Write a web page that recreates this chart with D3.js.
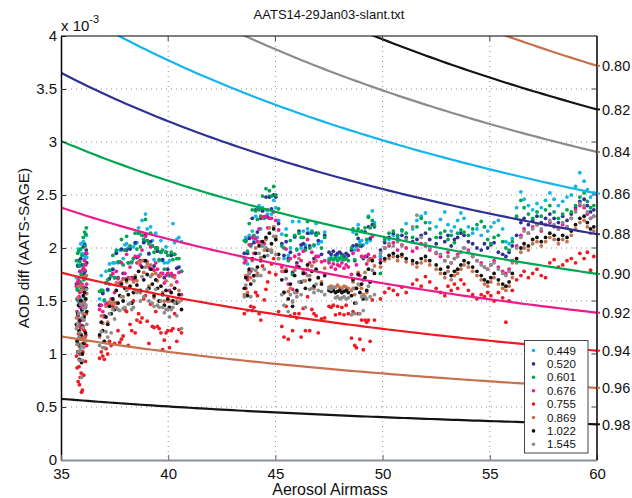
<!DOCTYPE html>
<html><head><meta charset="utf-8">
<script src="https://cdn.jsdelivr.net/npm/d3@7"></script>
<style>
body{margin:0;background:#fff}
svg text{font-family:"Liberation Sans",Arial,Helvetica,sans-serif;fill:#111}
</style>
</head><body>
<svg id="chart" width="632" height="498"></svg>
<script>
// ---- data (AOD values in units of 1e-3) ----
const airmass = [
35.72,35.75,35.78,35.80,35.82,35.84,35.86,35.88,35.90,35.92,35.94,35.96,35.98,36.00,36.02,36.04,36.06,36.08,36.10,36.12,36.14,36.16,36.18,36.20,
36.80,36.88,36.95,37.02,37.10,37.18,37.26,37.34,37.42,37.50,37.58,37.66,37.74,37.82,37.90,37.98,38.06,38.14,38.22,38.30,38.38,38.46,38.54,38.62,38.70,38.78,38.86,38.94,39.02,39.10,39.18,39.26,39.34,39.42,39.50,39.58,39.66,39.74,39.82,39.90,39.98,40.06,40.14,40.22,40.30,40.40,40.50,40.62,
43.55,43.62,43.70,43.78,43.85,43.92,44.00,44.08,44.16,44.24,44.32,44.40,44.48,44.56,44.64,44.72,44.82,44.92,45.02,45.15,
45.30,45.40,45.50,45.60,45.70,45.80,45.90,46.00,46.10,46.20,46.30,46.40,46.50,46.60,46.70,46.80,46.90,47.00,47.15,47.30,
47.50,47.60,47.70,47.80,47.90,48.00,48.10,48.20,48.30,48.40,
48.55,48.62,48.70,48.78,48.86,48.94,49.02,49.10,49.18,49.26,49.34,49.42,49.52,49.62,
49.90,50.10,50.30,50.50,50.70,50.90,51.10,51.40,51.60,51.80,52.00,52.20,52.50,52.70,52.90,53.05,53.20,53.35,53.50,53.65,53.80,54.00,54.20,54.40,54.60,54.75,54.90,55.05,55.20,55.40,55.60,55.75,55.90,56.05,56.25,56.45,56.60,56.80,57.00,57.20,57.40,57.60,57.80,58.00,58.20,58.40,58.60,58.80,59.00,59.20,59.40,59.55,59.70,59.85
];
const aod449 = [
1.72,1.66,1.84,1.50,1.99,1.64,1.45,1.83,1.52,2.04,1.64,1.40,1.95,1.42,1.76,2.06,1.54,1.89,2.04,1.92,1.73,1.94,2.12,1.91,
1.52,1.74,1.58,1.50,1.78,1.60,1.85,1.79,1.86,1.86,1.96,1.86,1.98,1.98,1.90,2.03,2.04,2.00,2.00,1.86,2.01,2.04,2.05,2.19,1.94,2.26,2.06,2.32,2.18,1.94,2.20,2.07,1.89,2.14,1.98,1.88,2.07,1.88,1.86,2.01,1.86,1.88,1.94,2.23,2.05,2.08,2.10,2.06,
1.90,2.10,1.85,2.12,2.03,2.16,2.08,2.30,2.10,2.40,2.18,2.38,2.29,2.36,2.32,2.49,2.32,2.45,2.38,2.26,
2.13,1.90,2.18,1.93,2.00,2.25,2.10,1.98,2.25,2.00,2.16,2.03,2.18,2.14,2.14,2.02,2.23,2.04,2.06,2.15,
1.90,1.91,1.89,1.90,1.92,1.90,1.89,1.91,1.90,1.93,
1.98,2.15,1.98,2.01,2.22,2.06,2.07,2.03,2.15,2.05,2.30,2.07,2.35,2.24,
1.92,2.00,2.08,2.12,2.10,2.16,2.23,2.18,2.26,2.30,2.33,2.24,2.20,2.27,2.34,2.22,2.16,2.20,2.26,2.33,2.28,2.20,2.14,2.18,2.12,2.20,2.16,2.20,2.24,2.26,2.18,2.06,2.04,2.09,2.38,2.53,2.46,2.40,2.36,2.42,2.38,2.45,2.52,2.46,2.40,2.44,2.48,2.50,2.58,2.71,2.63,2.55,2.48,2.52
];
const aod520 = [
1.66,1.52,1.83,1.36,1.88,1.65,1.31,1.78,1.46,1.90,1.63,1.26,1.84,1.43,1.62,2.01,1.48,1.75,2.03,1.78,1.62,1.95,1.98,1.86,
1.46,1.60,1.57,1.36,1.67,1.61,1.71,1.74,1.80,1.72,1.95,1.72,1.87,1.99,1.76,1.98,1.98,1.86,1.99,1.72,1.90,2.05,1.91,2.14,1.88,2.12,2.05,2.12,2.07,1.95,2.06,2.02,1.83,2.00,1.97,1.74,1.96,1.89,1.72,1.96,1.80,1.74,1.93,1.74,1.94,1.81,1.82,1.78,
1.95,2.07,1.95,2.09,2.03,2.28,2.05,2.36,2.15,2.37,2.28,2.35,2.29,2.48,2.29,2.48,2.37,2.50,2.48,2.23,
2.04,1.93,2.06,1.90,1.96,1.77,2.11,1.86,2.16,2.03,2.04,2.00,2.14,2.02,2.15,1.90,2.14,2.07,1.94,2.12,
1.96,1.94,1.97,1.93,1.95,1.96,1.94,1.92,1.95,1.93,
1.98,2.02,1.88,2.03,2.09,2.02,2.02,1.90,2.15,1.92,2.20,2.09,2.22,2.20,
1.98,2.05,2.10,2.14,2.08,2.12,2.10,2.06,2.08,2.12,2.14,2.08,2.04,2.10,2.06,2.12,2.02,2.08,2.10,2.14,2.12,2.06,2.04,2.00,1.98,2.04,2.00,2.03,2.05,1.96,1.94,1.92,1.96,2.02,2.12,2.24,2.28,2.22,2.26,2.30,2.24,2.28,2.32,2.28,2.24,2.30,2.26,2.32,2.38,2.44,2.46,2.40,2.34,2.36
];
const aod601 = [
1.88,1.61,1.95,1.60,1.97,1.83,1.48,1.87,1.68,1.99,1.75,1.50,1.93,1.61,1.79,2.10,1.70,1.84,2.15,2.02,1.71,2.13,2.19,1.95,
1.59,1.60,1.60,1.51,1.67,1.70,1.79,1.74,1.93,1.72,1.98,1.87,1.87,2.08,1.84,1.98,2.11,1.86,2.02,1.87,1.90,2.14,1.99,2.14,2.01,2.12,2.08,2.27,2.07,2.04,2.14,2.02,1.96,2.00,2.00,1.89,1.96,1.98,1.80,1.96,1.93,1.74,1.96,1.89,1.94,1.90,1.90,1.78,
2.07,2.06,1.97,2.23,2.02,2.36,2.12,2.35,2.27,2.36,2.30,2.49,2.28,2.56,2.36,2.54,2.49,2.58,2.50,2.37,
2.02,2.00,2.12,1.88,2.07,1.75,2.12,1.99,2.14,2.10,2.10,1.98,2.25,2.00,2.16,2.03,2.12,2.14,2.00,2.10,
1.88,1.90,1.89,1.91,1.88,1.90,1.92,1.89,1.90,1.88,
2.00,2.18,1.89,2.13,2.18,2.03,2.16,1.91,2.19,2.08,2.29,2.19,2.26,2.21,
1.76,2.08,2.14,2.16,2.12,2.17,2.14,2.10,2.20,2.28,2.24,2.18,2.10,2.14,2.16,2.08,2.12,2.05,2.14,2.17,2.15,2.12,2.18,2.22,2.25,2.20,2.08,2.04,2.10,2.12,2.06,2.00,1.98,2.06,2.30,2.45,2.38,2.32,2.28,2.34,2.30,2.36,2.40,2.34,2.28,2.32,2.36,2.34,2.40,2.48,2.52,2.44,2.38,2.40
];
const aod676 = [
1.64,1.40,1.68,1.37,1.70,1.54,1.28,1.58,1.44,1.78,1.48,1.27,1.66,1.32,1.59,1.81,1.46,1.63,1.88,1.79,1.44,1.84,1.95,1.66,
1.42,1.46,1.40,1.35,1.47,1.48,1.66,1.52,1.76,1.58,1.78,1.71,1.67,1.86,1.71,1.76,1.94,1.72,1.82,1.71,1.70,1.92,1.86,1.92,1.84,1.98,1.88,2.11,1.87,1.82,2.01,1.80,1.79,1.86,1.80,1.73,1.76,1.76,1.67,1.74,1.76,1.60,1.76,1.73,1.74,1.68,1.77,1.56,
1.86,1.88,1.73,2.03,1.78,2.10,1.95,2.09,2.06,2.18,2.06,2.29,2.04,2.30,2.19,2.28,2.28,2.34,2.26,2.17,
1.82,1.78,1.99,1.66,1.90,1.61,1.92,1.83,1.94,1.88,1.97,1.76,2.08,1.86,1.96,1.87,1.92,1.92,1.87,1.88,
1.86,1.82,1.85,1.80,1.84,1.83,1.86,1.81,1.84,1.82,
1.75,1.95,1.62,1.84,1.98,1.74,1.92,1.70,1.92,1.85,1.94,1.90,2.11,1.92,
1.89,2.00,2.02,2.05,1.98,2.03,2.00,1.97,2.00,2.04,2.02,1.98,1.95,1.92,1.88,1.96,1.86,1.90,1.94,1.96,2.00,1.98,1.92,1.88,1.86,1.82,1.80,1.84,1.88,1.82,1.78,1.76,1.80,1.88,2.02,2.12,2.18,2.14,2.20,2.22,2.16,2.22,2.24,2.20,2.18,2.22,2.20,2.28,2.36,2.40,2.38,2.32,2.28,2.30
];
const aod755 = [
0.98,0.87,1.02,0.74,1.19,0.88,0.71,1.00,0.78,1.25,0.82,0.64,1.15,0.66,1.02,1.23,0.80,1.10,1.22,1.16,0.93,1.18,1.38,1.08,
0.96,1.02,0.98,0.95,1.05,1.00,1.12,1.08,1.45,1.10,1.48,1.22,1.11,1.14,1.17,1.42,1.40,1.08,1.28,1.22,1.50,1.20,1.32,1.38,1.30,1.34,1.52,1.55,1.31,1.10,1.47,1.26,1.25,1.40,1.26,1.24,1.20,1.04,1.13,1.20,1.22,1.06,1.22,1.24,1.38,1.12,1.23,1.20,
1.38,1.62,1.70,1.78,1.45,1.41,1.44,1.58,1.55,1.38,1.32,1.83,1.51,1.61,1.68,1.77,1.85,1.90,1.75,1.40,
1.26,1.16,1.45,1.14,1.36,1.22,1.38,1.34,1.38,1.16,1.43,1.22,1.54,1.22,1.42,1.38,1.36,1.20,1.33,1.34,
1.45,1.44,1.46,1.37,1.45,1.38,1.44,1.37,1.46,1.38,
1.15,1.40,1.08,1.06,1.38,1.14,1.32,1.04,1.32,1.30,1.32,1.12,1.51,1.32,
1.52,1.58,1.62,1.60,1.56,1.63,1.58,1.66,1.70,1.64,1.73,1.68,1.62,1.58,1.55,1.64,1.60,1.66,1.62,1.70,1.66,1.60,1.56,1.52,1.56,1.54,1.58,1.55,1.50,1.58,1.53,1.30,1.50,1.60,1.70,1.74,1.78,1.72,1.76,1.80,1.74,1.72,1.86,1.89,1.82,1.84,1.88,1.90,1.86,1.95,1.90,1.96,1.79,1.92
];
const aod869 = [
1.34,1.26,1.53,1.10,1.64,1.32,1.07,1.49,1.14,1.64,1.33,1.00,1.60,1.10,1.38,1.72,1.16,1.49,1.73,1.52,1.38,1.62,1.74,1.57,
1.16,1.36,1.29,1.12,1.45,1.30,1.49,1.47,1.50,1.48,1.67,1.48,1.65,1.68,1.54,1.71,1.68,1.62,1.71,1.48,1.68,1.74,1.69,1.87,1.58,1.88,1.77,1.88,1.85,1.64,1.84,1.75,1.53,1.76,1.69,1.50,1.74,1.58,1.50,1.69,1.50,1.50,1.65,1.50,1.72,1.50,1.60,1.51,
1.56,1.74,1.58,1.76,1.72,1.88,1.74,2.00,1.76,2.04,1.91,2.02,1.98,2.08,1.98,2.19,1.98,2.20,2.11,1.90,
1.78,1.58,1.80,1.59,1.62,1.49,1.79,1.58,1.90,1.68,1.78,1.69,1.80,1.74,1.83,1.62,1.88,1.72,1.68,1.81,
1.63,1.64,1.62,1.63,1.65,1.63,1.62,1.64,1.63,1.62,
1.60,1.68,1.56,1.62,1.77,1.65,1.62,1.56,1.77,1.58,1.88,1.68,1.90,1.83,
1.82,1.88,1.90,1.92,1.88,1.92,1.87,1.85,1.82,1.86,1.88,1.84,1.80,1.76,1.72,1.78,1.70,1.74,1.76,1.80,1.84,1.82,1.78,1.74,1.70,1.66,1.64,1.68,1.72,1.66,1.62,1.60,1.64,1.72,1.86,1.96,2.00,1.98,2.04,2.06,2.02,2.06,2.10,2.08,2.04,2.08,2.06,2.12,2.18,2.24,2.26,2.20,2.14,2.16
];
const aod1022 = [
1.28,1.12,1.38,1.02,1.46,1.22,0.95,1.32,1.08,1.50,1.18,0.92,1.42,1.00,1.26,1.55,1.10,1.35,1.58,1.44,1.20,1.52,1.62,1.40,
1.18,1.30,1.22,1.12,1.35,1.28,1.45,1.38,1.52,1.42,1.60,1.48,1.55,1.66,1.50,1.62,1.70,1.56,1.64,1.48,1.58,1.72,1.65,1.78,1.60,1.82,1.70,1.88,1.75,1.62,1.80,1.66,1.55,1.70,1.62,1.50,1.64,1.56,1.46,1.60,1.52,1.44,1.58,1.50,1.62,1.48,1.56,1.42,
1.62,1.72,1.55,1.80,1.66,1.90,1.74,1.95,1.82,2.02,1.88,2.06,1.92,2.10,1.98,2.14,2.04,2.18,2.08,1.94,
1.70,1.58,1.78,1.52,1.66,1.45,1.74,1.60,1.82,1.68,1.76,1.62,1.84,1.70,1.78,1.64,1.80,1.72,1.66,1.74,
1.60,1.59,1.60,1.58,1.59,1.60,1.58,1.59,1.60,1.58,
1.55,1.70,1.48,1.62,1.75,1.58,1.66,1.52,1.72,1.60,1.80,1.68,1.88,1.76,
1.86,1.90,1.93,1.95,1.92,1.94,1.90,1.88,1.86,1.90,1.92,1.88,1.84,1.80,1.76,1.82,1.74,1.78,1.80,1.84,1.88,1.86,1.82,1.78,1.74,1.70,1.68,1.72,1.76,1.70,1.66,1.64,1.68,1.76,1.90,2.00,2.04,2.02,2.08,2.10,2.06,2.10,2.14,2.12,2.08,2.12,2.10,2.16,2.22,2.28,2.30,2.24,2.18,2.20
];
const aod1545 = [
1.24,1.09,1.28,1.02,1.38,1.16,0.94,1.20,1.04,1.47,1.08,0.78,1.34,0.94,1.25,1.43,1.06,1.32,1.48,1.44,1.12,1.46,1.61,1.28,
1.08,1.21,1.06,1.06,1.21,1.16,1.38,1.20,1.42,1.33,1.44,1.42,1.41,1.54,1.43,1.44,1.60,1.47,1.48,1.42,1.44,1.60,1.58,1.60,1.50,1.73,1.54,1.82,1.61,1.50,1.73,1.48,1.45,1.61,1.46,1.44,1.50,1.44,1.39,1.42,1.42,1.35,1.42,1.44,1.48,1.36,1.49,1.24,
1.54,1.65,1.41,1.76,1.54,1.80,1.69,1.79,1.74,1.95,1.74,2.02,1.80,2.00,1.93,1.98,1.96,2.11,1.94,1.90,
1.56,1.46,1.71,1.40,1.56,1.50,1.58,1.54,1.68,1.56,1.69,1.44,1.74,1.61,1.62,1.58,1.66,1.60,1.59,1.56,
1.62,1.61,1.63,1.53,1.54,1.52,1.53,1.54,1.52,1.53,
1.37,1.62,1.38,1.48,1.66,1.38,1.54,1.41,1.54,1.52,1.64,1.54,1.79,1.56,
1.95,2.00,2.04,2.02,2.06,2.02,2.08,2.20,2.31,2.10,2.04,2.00,1.96,1.94,1.88,1.92,1.86,1.90,1.92,1.96,2.00,1.96,1.92,1.88,1.84,1.82,1.80,1.84,1.86,1.80,1.76,1.74,1.78,1.86,2.00,2.10,2.16,2.14,2.18,2.22,2.18,2.22,2.26,2.22,2.18,2.24,2.20,2.28,2.34,2.42,2.40,2.34,2.28,2.30
];
const wavelengthLabels = ["0.449","0.520","0.601","0.676","0.755","0.869","1.022","1.545"];
const seriesColors = ["#14b4ec","#2e3192","#00a651","#ec1c8e","#ed1c24","#c8714e","#141414","#8c8c8c"];
const transmittances = [0.80,0.82,0.84,0.86,0.88,0.90,0.92,0.94,0.96,0.98];
const transLabels = ["0.80","0.82","0.84","0.86","0.88","0.90","0.92","0.94","0.96","0.98"];
const curveColors = ["#c8714e","#141414","#8c8c8c","#14b4ec","#2e3192","#00a651","#ec1c8e","#ed1c24","#c8714e","#141414"];
const xTicks = [35,40,45,50,55,60];
const yTicks = [0,0.5,1,1.5,2,2.5,3,3.5,4];
const titleText = "AATS14-29Jan03-slant.txt";

// ---- drawing ----
const L = 61, R = 597, T = 36, B = 460;
const svg = d3.select("#chart");
const x = d3.scaleLinear().domain([35,60]).range([L,R]);
const y = d3.scaleLinear().domain([0,4]).range([B,T]);

svg.append("defs").append("clipPath").attr("id","plotclip")
  .append("rect").attr("x",L).attr("y",T).attr("width",R-L).attr("height",B-T);

// grid
const grid = svg.append("g");
grid.selectAll("line.gx").data(xTicks.slice(1,-1)).join("line")
  .attr("x1",d=>x(d)).attr("x2",d=>x(d)).attr("y1",T).attr("y2",B)
  .attr("stroke","#8f8f8f").attr("stroke-width",1).attr("stroke-dasharray","1,4");
grid.selectAll("line.gy").data(yTicks.slice(1,-1)).join("line")
  .attr("y1",d=>y(d)).attr("y2",d=>y(d)).attr("x1",L).attr("x2",R)
  .attr("stroke","#8f8f8f").attr("stroke-width",1).attr("stroke-dasharray","1,4");

// scatter points
const seriesValues = [aod449,aod520,aod601,aod676,aod755,aod869,aod1022,aod1545];
const pts = svg.append("g").attr("clip-path","url(#plotclip)");
seriesValues.forEach((vals,k)=>{
  pts.append("g").selectAll("circle").data(vals).join("circle")
    .attr("cx",(d,i)=>x(airmass[i])).attr("cy",d=>y(d)).attr("r",1.9)
    .attr("fill",seriesColors[k]);
});

// constant-transmittance curves: AOD = -ln(T)/airmass
const mGrid = d3.range(35,60.001,0.25);
const line = d3.line().x(d=>x(d[0])).y(d=>y(d[1]));
const curves = svg.append("g").attr("clip-path","url(#plotclip)");
transmittances.forEach((t,k)=>{
  curves.append("path")
    .attr("d",line(mGrid.map(m=>[m,-Math.log(t)/m*1000])))
    .attr("fill","none").attr("stroke",curveColors[k]).attr("stroke-width",2.2);
});

// axes
const axL = svg.append("g").attr("transform",`translate(${L},0)`)
  .call(d3.axisLeft(y).tickValues(yTicks).tickFormat(d=>String(d)).tickSizeInner(-5).tickSizeOuter(0).tickPadding(4));
axL.select(".domain").attr("stroke","#000").attr("stroke-width",1.5);
axL.selectAll(".tick line").attr("stroke","#333");
axL.selectAll("text").attr("font-size",15).attr("fill","#111");

const axB = svg.append("g").attr("transform",`translate(0,${B})`)
  .call(d3.axisBottom(x).tickValues(xTicks).tickFormat(d=>String(d)).tickSizeInner(-5).tickSizeOuter(0).tickPadding(8));
axB.select(".domain").attr("stroke","#8a9096").attr("stroke-width",2.2);
axB.selectAll(".tick line").attr("stroke","#666");
axB.selectAll("text").attr("font-size",15).attr("fill","#111");

// top and right frame
svg.append("line").attr("x1",L).attr("x2",R).attr("y1",T).attr("y2",T).attr("stroke","#000").attr("stroke-width",1.2);
svg.append("line").attr("x1",R).attr("x2",R).attr("y1",T).attr("y2",B).attr("stroke","#000").attr("stroke-width",1.5);
svg.append("g").selectAll("line").data(xTicks.slice(1,-1)).join("line")
  .attr("x1",d=>x(d)).attr("x2",d=>x(d)).attr("y1",T).attr("y2",T+5).attr("stroke","#444");
svg.append("g").selectAll("line").data(yTicks.slice(1,-1)).join("line")
  .attr("x1",R-5).attr("x2",R).attr("y1",d=>y(d)).attr("y2",d=>y(d)).attr("stroke","#444");

// right axis labels for transmittance curves (at airmass 60)
const rAx = svg.append("g");
transmittances.forEach((t,k)=>{
  const yy = y(-Math.log(t)/60*1000);
  rAx.append("line").attr("x1",R).attr("x2",R+3).attr("y1",yy).attr("y2",yy)
    .attr("stroke",curveColors[k]).attr("stroke-width",2);
  rAx.append("text").attr("x",R+5).attr("y",yy).attr("dy","0.36em")
    .attr("font-size",14.5).text(transLabels[k]);
});

// multiplier
const mult = svg.append("text").attr("x",L).attr("y",31).attr("font-size",15);
mult.append("tspan").text("x 10");
mult.append("tspan").attr("dy",-8).attr("font-size",11).text("-3");

// title and axis labels
svg.append("text").attr("x",329).attr("y",19).attr("text-anchor","middle").attr("font-size",13).text(titleText);
svg.append("text").attr("x",330).attr("y",495).attr("text-anchor","middle").attr("font-size",16).text("Aerosol Airmass");
svg.append("text").attr("transform","translate(29,248) rotate(-90)").attr("text-anchor","middle").attr("font-size",15.5).text("AOD diff (AATS-SAGE)");

// legend
const lg = svg.append("g");
lg.append("rect").attr("x",524.5).attr("y",340.5).attr("width",63.5).attr("height",112.5)
  .attr("fill","#fff").attr("stroke","#444").attr("stroke-width",1);
wavelengthLabels.forEach((lab,k)=>{
  const yy = 350.5 + k*13.4;
  lg.append("circle").attr("cx",533.5).attr("cy",yy).attr("r",1.8).attr("fill",seriesColors[k]);
  lg.append("text").attr("x",547).attr("y",yy).attr("dy","0.36em").attr("font-size",11.5).attr("fill","#222").text(lab);
});

// sanity check on data lengths
seriesValues.forEach((v,k)=>{ if(v.length!==airmass.length) throw new Error("length mismatch series "+k+": "+v.length+" vs "+airmass.length); });
</script>
</body></html>
